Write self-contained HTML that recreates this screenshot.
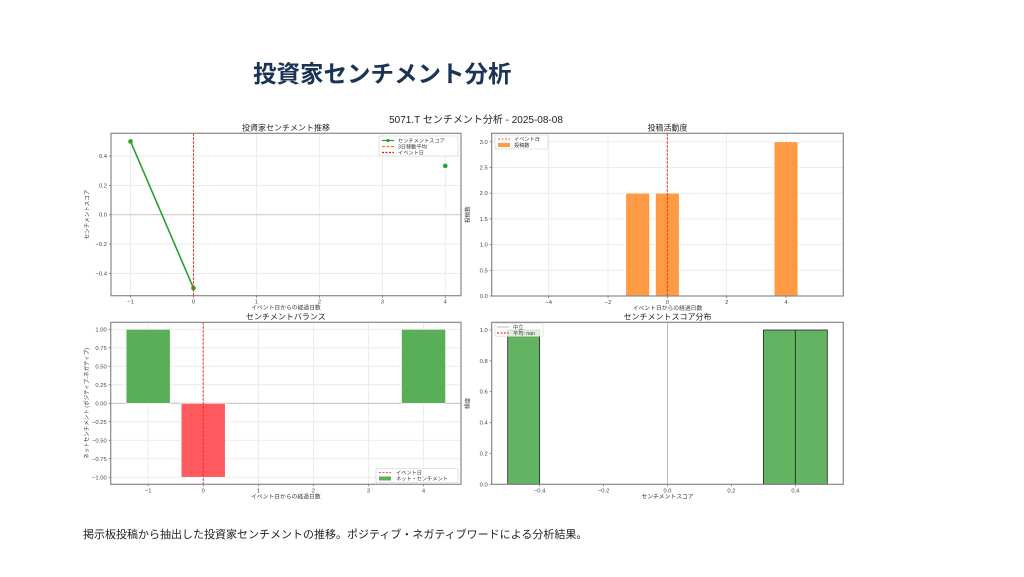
<!DOCTYPE html>
<html><head><meta charset="utf-8">
<style>
body{margin:0;width:1024px;height:577px;background:#fff;overflow:hidden;font-family:"Liberation Sans","Noto Sans CJK JP",sans-serif;}
#title{position:absolute;left:253px;top:55px;font-size:23.5px;font-weight:bold;color:#1b3456;white-space:nowrap;letter-spacing:0px;}
#caption{position:absolute;left:83px;top:526px;font-size:11px;color:#222;white-space:nowrap;}
svg{position:absolute;left:0;top:0;}
svg text{font-family:"Liberation Sans","Noto Sans CJK JP",sans-serif;}
</style></head>
<body>
<div id="title">投資家センチメント分析</div>
<div id="caption">掲示板投稿から抽出した投資家センチメントの推移。ポジティブ・ネガティブワードによる分析結果。</div>
<svg id="chart" width="1024" height="577"></svg>
<script>
// Panel 1: sentiment trend
const trendDays = [-1, 0, 1, 2, 3, 4];
const trendScores = [0.5, -0.5, null, null, null, 0.333];
const trendTicksX = [-1, 0, 1, 2, 3, 4];
const trendTicksY = [-0.4, -0.2, 0.0, 0.2, 0.4];
// Panel 2: post activity
const postDays = [-1, 0, 4];
const postCounts = [2, 2, 3];
const postTicksX = [-4, -2, 0, 2, 4];
const postTicksY = [0.0, 0.5, 1.0, 1.5, 2.0, 2.5, 3.0];
// Panel 3: net balance
const balanceDays = [-1, 0, 4];
const balanceValues = [1, -1, 1];
const balanceTicksX = [-1, 0, 1, 2, 3, 4];
const balanceTicksY = [-1.0, -0.75, -0.5, -0.25, 0.0, 0.25, 0.5, 0.75, 1.0];
// Panel 4: distribution histogram
const histEdges = [-0.5, -0.4, -0.3, -0.2, -0.1, 0.0, 0.1, 0.2, 0.3, 0.4, 0.5];
const histCounts = [1, 0, 0, 0, 0, 0, 0, 0, 1, 1];
const histTicksX = [-0.4, -0.2, 0.0, 0.2, 0.4];
const histTicksY = [0.0, 0.2, 0.4, 0.6, 0.8, 1.0];

const NS = 'http://www.w3.org/2000/svg';
const svg = document.getElementById('chart');
function mk(tag, attrs, parent, txt){
  const e = document.createElementNS(NS, tag);
  for (const k in attrs) e.setAttribute(k, attrs[k]);
  if (txt !== undefined) e.textContent = txt;
  (parent || svg).appendChild(e);
  return e;
}
function fmt(v, d){ let s = v.toFixed(d); if (v < 0) s = '\u2212' + s.slice(1); return s; }
function axes(box, xmin, xmax, ymin, ymax){
  const sx = v => box.x0 + (v - xmin) / (xmax - xmin) * (box.x1 - box.x0);
  const sy = v => box.y1 - (v - ymin) / (ymax - ymin) * (box.y1 - box.y0);
  return {sx, sy};
}
function frame(g, box, ax, tx, ty, dx, dy, title, xlabel, ylabel, grid){
  if (grid) {
    tx.forEach(v => { const l = mk('line', {x1:ax.sx(v), x2:ax.sx(v), y1:box.y0, y2:box.y1, stroke:'#e8e8e8', 'stroke-width':0.8}, g);   });
    ty.forEach(v => { const l = mk('line', {x1:box.x0, x2:box.x1, y1:ax.sy(v), y2:ax.sy(v), stroke:'#e8e8e8', 'stroke-width':0.8}, g);   });
  }
  tx.forEach(v => {
    mk('line', {x1:ax.sx(v), x2:ax.sx(v), y1:box.y1, y2:box.y1+2, stroke:'#555', 'stroke-width':0.7}, g);
    const t = mk('text', {x:ax.sx(v), y:box.y1+8, 'font-size':5.8, 'text-anchor':'middle', fill:'#444'}, g, fmt(v, dx));
     
  });
  ty.forEach(v => {
    mk('line', {x1:box.x0-2, x2:box.x0, y1:ax.sy(v), y2:ax.sy(v), stroke:'#555', 'stroke-width':0.7}, g);
    const t = mk('text', {x:box.x0-4, y:ax.sy(v)+2, 'font-size':5.8, 'text-anchor':'end', fill:'#444'}, g, fmt(v, dy));
     
  });
  const tt = mk('text', {x:(box.x0+box.x1)/2, y:box.y0-3, 'font-size':8, 'text-anchor':'middle', fill:'#222'}, g, title);
   
  const xl = mk('text', {x:(box.x0+box.x1)/2, y:box.y1+14, 'font-size':5.8, 'text-anchor':'middle', fill:'#333'}, g, xlabel);
   
  const cx = box.x0-22, cy=(box.y0+box.y1)/2;
  const yl = mk('text', {x:cx, y:cy, 'font-size':5.5, 'text-anchor':'middle', fill:'#333', transform:`rotate(-90 ${cx} ${cy})`}, g, ylabel);
   
}
function border(g, box){
  const r = mk('rect', {x:box.x0, y:box.y0, width:box.x1-box.x0, height:box.y1-box.y0, fill:'none', stroke:'#888', 'stroke-width':1.2}, g);
   
}
function eventLine(g, ax, box){
  const ev = mk('line', {x1:ax.sx(0), x2:ax.sx(0), y1:box.y0, y2:box.y1, stroke:'#ff2020', 'stroke-width':1, 'stroke-dasharray':'2.5,1.5'}, g);
   
}

// suptitle
const st = mk('text', {x:476, y:123, 'font-size':10, 'text-anchor':'middle', fill:'#222'}, svg, '5071.T センチメント分析 - 2025-08-08');
 

// ---------- Panel 1 ----------
{
  const box = {x0:111, x1:461, y0:133.3, y1:295.7};
  const g = mk('g', {});  
  const ax = axes(box, -1.31, 4.25, -0.552, 0.555);
  frame(g, box, ax, trendTicksX, trendTicksY, 0, 1, '投資家センチメント推移', 'イベント日からの経過日数', 'センチメントスコア', true);
  mk('line', {x1:box.x0, x2:box.x1, y1:ax.sy(0), y2:ax.sy(0), stroke:'#bbb', 'stroke-width':0.8}, g);
  for (let i = 0; i < trendDays.length-1; i++) {
    if (trendScores[i] !== null && trendScores[i+1] !== null) {
      const l = mk('line', {x1:ax.sx(trendDays[i]), y1:ax.sy(trendScores[i]), x2:ax.sx(trendDays[i+1]), y2:ax.sy(trendScores[i+1]), stroke:'#2ca02c', 'stroke-width':1.6}, g);
       
    }
  }
  trendDays.forEach((d, i) => {
    if (trendScores[i] === null) return;
    const c = mk('circle', {cx:ax.sx(d), cy:ax.sy(trendScores[i]), r:2.3, fill:'#2ca02c'}, g);
     
  });
  eventLine(g, ax, box);
  border(g, box);
  const lg = mk('g', {}, g);  
  mk('rect', {x:379, y:136, width:79, height:20, fill:'#fff', stroke:'#ccc', 'stroke-width':0.6, rx:1.5}, lg);
  const items = [['センチメントスコア','#2ca02c','', true],['3日移動平均','#ff7f0e','3,1.5', false],['イベント日','#f00','2,1.5', false]];
  items.forEach((it, i) => {
    const y = 140.5 + i*6;
    mk('line', {x1:382, x2:394, y1:y, y2:y, stroke:it[1], 'stroke-width':1.2, 'stroke-dasharray':it[2]}, lg);
    if (it[3]) mk('circle', {cx:388, cy:y, r:1.6, fill:it[1]}, lg);
    const t = mk('text', {x:398, y:y+2, 'font-size':5.2, fill:'#333'}, lg, it[0]);
     
  });
}

// ---------- Panel 2 ----------
{
  const box = {x0:491.7, x1:843.3, y0:133.3, y1:296};
  const g = mk('g', {});  
  const ax = axes(box, -5.92, 5.93, 0, 3.165);
  frame(g, box, ax, postTicksX, postTicksY, 0, 1, '投稿活動度', 'イベント日からの経過日数', '投稿数', true);
  postDays.forEach((d, i) => {
    const r = mk('rect', {x:ax.sx(d-0.4), y:ax.sy(postCounts[i]), width:ax.sx(d+0.4)-ax.sx(d-0.4), height:ax.sy(0)-ax.sy(postCounts[i]), fill:'#ff9a45', stroke:'#fff', 'stroke-width':0.6}, g);
     
  });
  eventLine(g, ax, box);
  border(g, box);
  const lg = mk('g', {}, g);  
  mk('rect', {x:495, y:135, width:53, height:14, fill:'#fff', stroke:'#ccc', 'stroke-width':0.6, rx:1.5}, lg);
  mk('line', {x1:498, x2:510, y1:139, y2:139, stroke:'#f00', 'stroke-width':1, 'stroke-dasharray':'2,1.5', opacity:0.7}, lg);
  mk('rect', {x:498, y:143, width:12, height:4, fill:'#ff9a45'}, lg);
  let t = mk('text', {x:514, y:141, 'font-size':5.2, fill:'#333'}, lg, 'イベント日');  
  t = mk('text', {x:514, y:147, 'font-size':5.2, fill:'#333'}, lg, '投稿数');  
}

// ---------- Panel 3 ----------
{
  const box = {x0:110.7, x1:461, y0:322.3, y1:484.3};
  const g = mk('g', {});  
  const ax = axes(box, -1.68, 4.68, -1.095, 1.095);
  frame(g, box, ax, balanceTicksX, balanceTicksY, 0, 2, 'センチメントバランス', 'イベント日からの経過日数', 'ネットセンチメント (ポジティブ-ネガティブ)', true);
  mk('line', {x1:box.x0, x2:box.x1, y1:ax.sy(0), y2:ax.sy(0), stroke:'#bbb', 'stroke-width':0.8}, g);
  balanceDays.forEach((d, i) => {
    const v = balanceValues[i];
    const top = Math.min(ax.sy(v), ax.sy(0)), h = Math.abs(ax.sy(v)-ax.sy(0));
    const r = mk('rect', {x:ax.sx(d-0.4), y:top, width:ax.sx(d+0.4)-ax.sx(d-0.4), height:h, fill: v>=0 ? '#5aae58' : '#ff5a60', stroke:'#fff', 'stroke-width':0.6}, g);
     
  });
  eventLine(g, ax, box);
  border(g, box);
  const lg = mk('g', {}, g);  
  mk('rect', {x:376, y:468.5, width:82, height:14, fill:'#fff', stroke:'#ccc', 'stroke-width':0.6, rx:1.5}, lg);
  mk('line', {x1:379, x2:391, y1:472.5, y2:472.5, stroke:'#f00', 'stroke-width':1, 'stroke-dasharray':'2,1.5', opacity:0.7}, lg);
  mk('rect', {x:379, y:476.5, width:12, height:4, fill:'#5aae58'}, lg);
  let t = mk('text', {x:396, y:474.5, 'font-size':5.2, fill:'#333'}, lg, 'イベント日');  
  t = mk('text', {x:396, y:480.5, 'font-size':5.2, fill:'#333'}, lg, 'ネット・センチメント');  
}

// ---------- Panel 4 ----------
{
  const box = {x0:491.7, x1:843.3, y0:322.3, y1:484.3};
  const g = mk('g', {});  
  const ax = axes(box, -0.55, 0.55, 0, 1.05);
  frame(g, box, ax, histTicksX, histTicksY, 1, 1, 'センチメントスコア分布', 'センチメントスコア', '頻度', false);
  histCounts.forEach((c, i) => {
    if (c <= 0) return;
    const r = mk('rect', {x:ax.sx(histEdges[i]), y:ax.sy(c), width:ax.sx(histEdges[i+1])-ax.sx(histEdges[i]), height:ax.sy(0)-ax.sy(c), fill:'#62b462', stroke:'#222', 'stroke-width':0.8}, g);
     
  });
  const nl = mk('line', {x1:ax.sx(0), x2:ax.sx(0), y1:box.y0, y2:box.y1, stroke:'#bbb', 'stroke-width':1}, g);
   
  border(g, box);
  const lg = mk('g', {}, g);  
  mk('rect', {x:495, y:323.5, width:48, height:13, fill:'#fff', stroke:'#ccc', 'stroke-width':0.6, rx:1.5, opacity:0.8}, lg);
  mk('line', {x1:497, x2:509, y1:327, y2:327, stroke:'#bbb', 'stroke-width':1}, lg);
  mk('line', {x1:497, x2:509, y1:333, y2:333, stroke:'#f00', 'stroke-width':1, 'stroke-dasharray':'2,1.5'}, lg);
  let t = mk('text', {x:513, y:329, 'font-size':5.2, fill:'#333'}, lg, '中立');  
  t = mk('text', {x:513, y:335, 'font-size':5.2, fill:'#333'}, lg, '平均: nan');  
}
</script>
</body></html>
